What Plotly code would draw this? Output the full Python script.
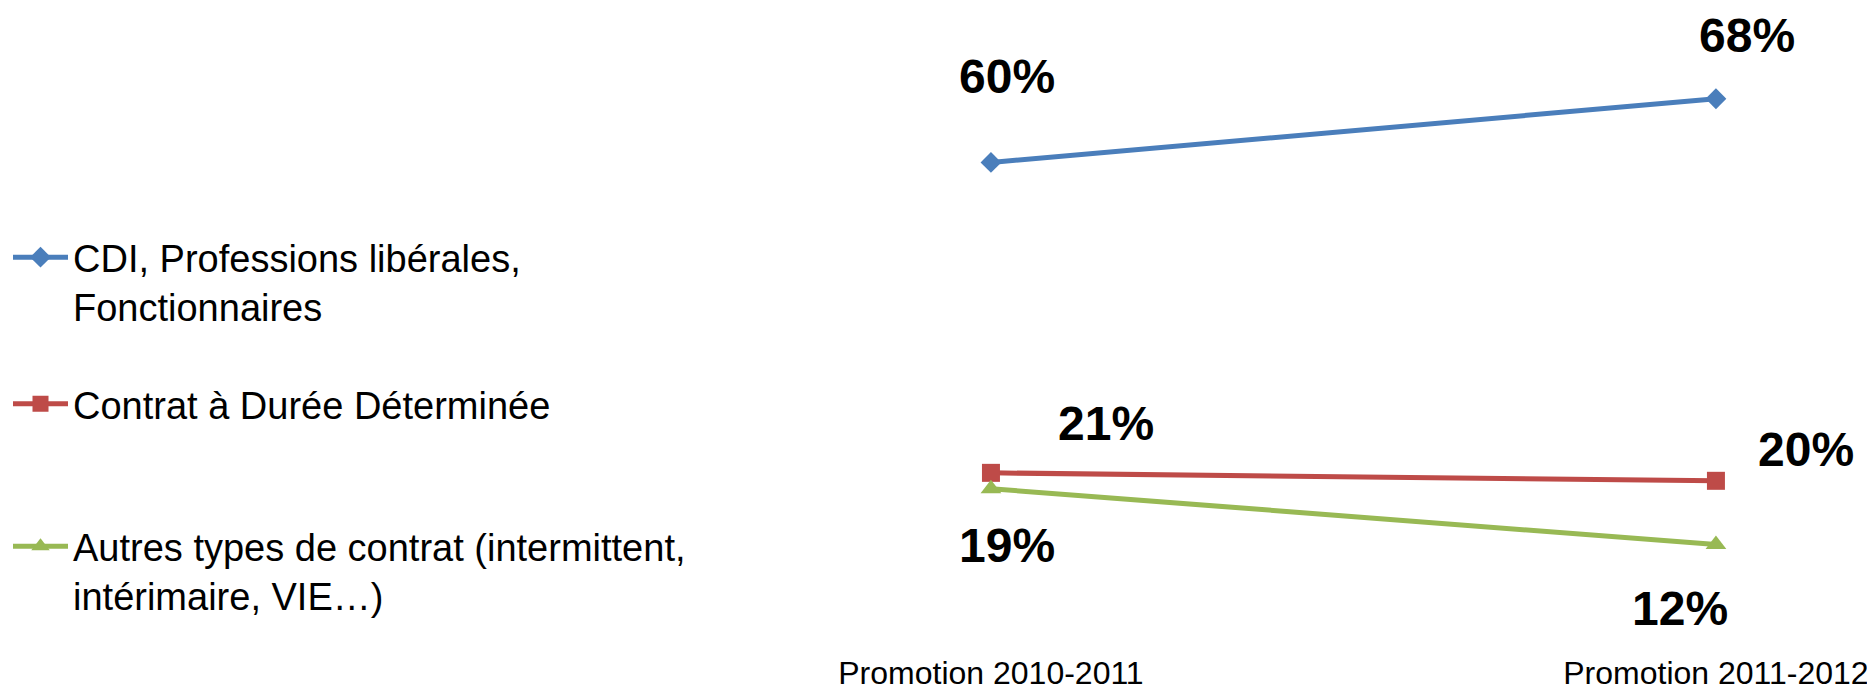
import plotly.graph_objects as go

categories = ["Promotion 2010-2011", "Promotion 2011-2012"]
series_names = [
    "CDI, Professions libérales,<br>Fonctionnaires",
    "Contrat à Durée Déterminée",
    "Autres types de contrat (intermittent,<br>intérimaire, VIE…)",
]
cdi = [0.60, 0.68]
cdd = [0.21, 0.20]
autres = [0.19, 0.12]

series_values = [cdi, cdd, autres]
colors = ["#4A7EBB", "#BE4B48", "#98B954"]
symbols = ["diamond", "square", "triangle-up"]
marker_sizes = [16, 18, 18]
# label offsets in pixels (xshift, yshift) per series/point
label_offsets = [
    [(16, 86), (31, 63)],
    [(115, 49), (90, 31)],
    [(16, -57), (-36, -64)],
]
legend_y_px = [274, 396, 563]

FONT = "Liberation Sans, Arial, sans-serif"
# the page adds an 8px body margin around the figure
W, H = 1867, 683

fig = go.Figure()
legend_keys = ["legend", "legend2", "legend3"]
for i, (name, vals) in enumerate(zip(series_names, series_values)):
    fig.add_trace(go.Scatter(
        x=categories, y=vals, name=name, mode="lines+markers",
        line=dict(color=colors[i], width=5),
        marker=dict(symbol=symbols[i], size=marker_sizes[i], color=colors[i]),
        legend=legend_keys[i], hoverinfo="skip",
    ))
    for j, v in enumerate(vals):
        dx, dy = label_offsets[i][j]
        fig.add_annotation(
            x=categories[j], y=v, text=f"<b>{round(v*100)}%</b>",
            showarrow=False, xshift=dx, yshift=dy,
            font=dict(family=FONT, size=48, color="#000000"),
        )

legend_common = dict(
    xref="container", yref="container", x=0.0, xanchor="left",
    yanchor="middle", valign="top", itemwidth=55,
    font=dict(family=FONT, size=38, color="#000000"),
    bgcolor="rgba(0,0,0,0)", itemclick=False,
)
layout_legends = {}
for k, ypx in zip(legend_keys, legend_y_px):
    layout_legends[k] = dict(legend_common, y=1 - ypx / H)

fig.update_layout(
    width=W, height=H,
    margin=dict(l=700, r=10, t=0, b=51, autoexpand=False),
    paper_bgcolor="white", plot_bgcolor="white",
    showlegend=True,
    xaxis=dict(
        type="category", range=[-0.3903, 1.2056], showgrid=False,
        zeroline=False, showline=False, ticks="", automargin=False,
        tickfont=dict(family=FONT, size=32, color="#000000"),
        ticklabelstandoff=11,
    ),
    yaxis=dict(
        range=[0, 0.794], showgrid=False, zeroline=False, showline=False,
        showticklabels=False, ticks="", automargin=False,
    ),
    **layout_legends,
)

fig.write_html("out.html")
